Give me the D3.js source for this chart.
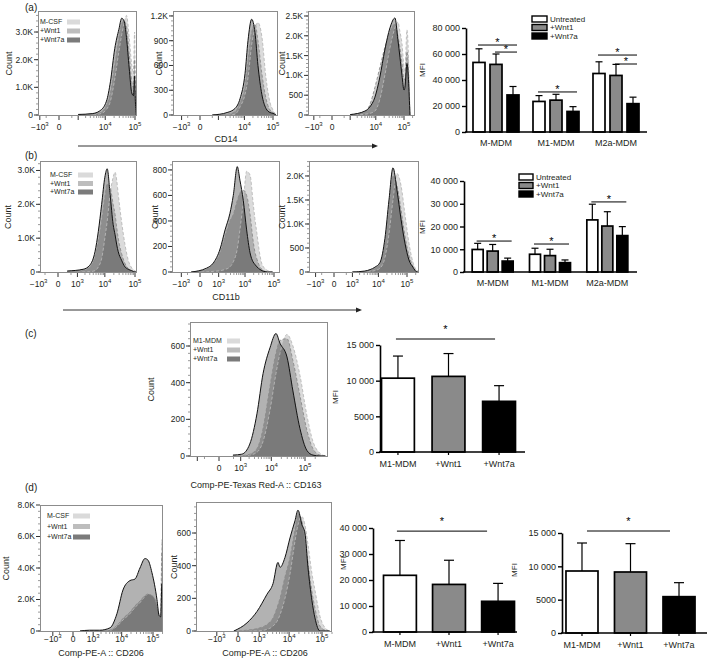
<!DOCTYPE html>
<html><head><meta charset="utf-8">
<script src="https://cdn.jsdelivr.net/npm/d3@7"></script>
<style>
body{margin:0;background:#fff}
svg{font-family:"Liberation Sans",Arial,Helvetica,sans-serif}
</style></head><body>
<svg id="chart" width="709" height="662"></svg>
<script>
// ================= DATA =================
const histLegendMCSF = ["M-CSF", "+Wnt1", "+Wnt7a"];
const histLegendM1 = ["M1-MDM", "+Wnt1", "+Wnt7a"];

// (a) CD14 histograms (fluorescence grid, counts per series)
const a1Grid  = [1000, 3500, 6500, 11000, 15000, 21000, 29000, 36000, 43000, 52000, 64000, 78000, 89000, 97000, 102000, 110000];
const a1Mcsf  = [0, 10, 40, 200, 500, 1300, 2300, 2900, 3300, 3600, 2800, 1800, 1500, 3000, 1000, 0];
const a1Wnt1  = [10, 30, 80, 350, 800, 1800, 2800, 3300, 3400, 3200, 2200, 1200, 1000, 2000, 800, 0];
const a1Wnt7a = [20, 50, 150, 500, 1200, 2400, 3100, 3500, 3400, 2800, 1700, 800, 700, 1400, 600, 0];

const a2Grid  = [500, 2300, 4600, 7000, 10500, 13400, 18000, 23600, 30000, 41000, 57000, 79000, 100000, 127000];
const a2Mcsf  = [0, 0, 10, 100, 250, 450, 850, 1050, 1120, 950, 450, 150, 60, 0];
const a2Wnt1  = [0, 10, 40, 150, 350, 650, 1000, 1100, 900, 500, 200, 60, 30, 0];
const a2Wnt7a = [0, 30, 80, 200, 500, 900, 1160, 1000, 600, 250, 80, 30, 20, 0];

const a3Grid  = [1000, 4000, 6000, 9300, 14000, 21000, 32000, 48000, 61000, 72000, 85000, 100000, 108000, 127000, 162000];
const a3Mcsf  = [0, 20, 40, 100, 400, 1000, 1700, 2200, 2350, 2100, 1800, 1200, 1100, 2150, 0];
const a3Wnt1  = [10, 80, 250, 700, 1200, 1700, 2100, 2300, 2000, 1700, 1300, 900, 900, 1600, 0];
const a3Wnt7a = [10, 100, 200, 450, 960, 1640, 2200, 2450, 1900, 1460, 1000, 630, 700, 1300, 0];

// (b) CD11b histograms
const b1Grid  = [300, 1700, 3000, 4600, 6000, 7800, 10000, 12000, 15000, 19000, 22000, 25000, 28000, 36000, 47000, 60000, 78000, 100000, 130000];
const b1Mcsf  = [0, 0, 10, 40, 150, 400, 1000, 1500, 2300, 2800, 2950, 2700, 2300, 1500, 800, 350, 120, 30, 0];
const b1Wnt1  = [10, 50, 150, 450, 900, 1500, 2200, 2600, 2500, 2000, 1700, 1300, 1000, 550, 250, 100, 30, 0, 0];
const b1Wnt7a = [30, 80, 200, 600, 1200, 2000, 2800, 3050, 2300, 1400, 1100, 800, 600, 350, 150, 80, 40, 0, 0];

const b2Grid  = [-300, 200, 550, 1150, 1850, 2850, 3800, 5300, 6600, 8700, 11400, 15000, 19000, 22000, 26000, 33000, 39000, 62000, 90000];
const b2Mcsf  = [0, 0, 5, 10, 20, 40, 80, 180, 330, 550, 790, 760, 550, 420, 300, 130, 60, 10, 0];
const b2Wnt1  = [0, 20, 60, 150, 280, 400, 450, 560, 620, 640, 600, 450, 250, 160, 100, 40, 20, 0, 0];
const b2Wnt7a = [0, 30, 70, 180, 330, 460, 600, 826, 720, 560, 330, 150, 80, 60, 40, 20, 10, 0, 0];

const b3Grid  = [1000, 3200, 5000, 7500, 11400, 17000, 23600, 32600, 45000, 62000, 85000, 117000, 161000, 222000, 300000];
const b3Mcsf  = [0, 0, 10, 30, 80, 300, 800, 1500, 2050, 1800, 1200, 600, 200, 30, 0];
const b3Wnt1  = [0, 10, 30, 80, 180, 600, 1300, 2000, 1800, 1300, 750, 350, 120, 10, 0];
const b3Wnt7a = [0, 20, 50, 100, 200, 700, 1500, 2170, 1700, 1100, 600, 250, 100, 0, 0];

// (c) CD163 histogram
const cGrid  = [470, 1100, 2100, 3600, 5600, 9100, 13800, 18200, 29400, 44000, 71000, 114000, 171000, 275000, 400000];
const cM1    = [0, 0, 5, 20, 80, 250, 450, 560, 663, 600, 440, 220, 80, 15, 0];
const cWnt1  = [0, 2, 10, 40, 150, 380, 560, 630, 640, 520, 330, 140, 40, 5, 0];
const cWnt7a = [5, 10, 65, 230, 450, 590, 668, 615, 540, 355, 150, 30, 5, 0, 0];

// (d) CD206 histograms
const d1Grid  = [200, 700, 1800, 4100, 7000, 11000, 18500, 26800, 38600, 55700, 69300, 92700, 133500, 154500, 175000, 192000, 206000];
const d1Mcsf  = [0, 0, 20, 50, 300, 700, 1100, 1500, 1800, 2200, 2350, 2300, 1700, 1100, 1000, 5800, 0];
const d1Wnt1  = [0, 0, 20, 60, 350, 800, 1200, 1600, 1900, 2250, 2350, 2250, 1650, 1050, 950, 5000, 0];
const d1Wnt7a = [0, 50, 50, 200, 1100, 2600, 3200, 3300, 4000, 4600, 4500, 3700, 2000, 1000, 900, 3000, 0];

const d2Grid  = [-100, 260, 820, 1930, 3080, 4470, 5190, 7430, 10650, 15160, 18730, 24800, 30500, 37700, 49800, 61300, 86800, 123000, 170000];
const d2Mcsf  = [0, 0, 0, 10, 30, 70, 100, 200, 350, 550, 650, 700, 650, 530, 350, 250, 90, 20, 0];
const d2Wnt1  = [0, 5, 15, 40, 80, 160, 200, 330, 450, 620, 720, 670, 560, 420, 240, 140, 30, 5, 0];
const d2Wnt7a = [0, 50, 120, 225, 290, 420, 390, 450, 570, 675, 740, 650, 600, 390, 185, 80, 0, 0, 0];

// Bar charts (MFI, mean and error)
const barGroups = ["M-MDM", "M1-MDM", "M2a-MDM"];
const barSeries = ["Untreated", "+Wnt1", "+Wnt7a"];
const cd14Untreated = [53500, 23500, 45000], cd14UntreatedErr = [10500, 4500, 9000];
const cd14Wnt1      = [52000, 24500, 43500], cd14Wnt1Err      = [8000, 4500, 8500];
const cd14Wnt7a     = [28500, 15800, 21800], cd14Wnt7aErr     = [6500, 3700, 5000];
const cd14Ticks = [0, 20000, 40000, 60000, 80000];
const cd14Sig = [[0, 0, 2, 66900], [0, 1, 2, 61500], [1, 0, 2, 30800], [2, 0, 2, 59200], [2, 1, 2, 52300]];

const cd11bUntreated = [9900, 7800, 22900], cd11bUntreatedErr = [2700, 2650, 6900];
const cd11bWnt1      = [9200, 7200, 20200], cd11bWnt1Err      = [2900, 2800, 6300];
const cd11bWnt7a     = [4800, 4100, 16000], cd11bWnt7aErr     = [1300, 1200, 3950];
const cd11bTicks = [0, 10000, 20000, 30000, 40000];
const cd11bSig = [[0, 0, 2, 13600], [1, 0, 2, 12300], [2, 0, 2, 30800]];

const cd163Cats = ["M1-MDM", "+Wnt1", "+Wnt7a"];
const cd163Mean = [10350, 10600, 7100], cd163Err = [3100, 3200, 2200];
const cd163Ticks = [0, 5000, 10000, 15000];
const cd163Sig = [[0, 2, 15840]];

const cd206MCats = ["M-MDM", "+Wnt1", "+Wnt7a"];
const cd206MMean = [21800, 18300, 11800], cd206MErr = [13400, 9300, 6900];
const cd206MTicks = [0, 10000, 20000, 30000, 40000];
const cd206MSig = [[0, 2, 38800]];

const cd206M1Cats = ["M1-MDM", "+Wnt1", "+Wnt7a"];
const cd206M1Mean = [9300, 9150, 5450], cd206M1Err = [4200, 4250, 2100];
const cd206M1Ticks = [0, 5000, 10000, 15000];
const cd206M1Sig = [[0, 2, 15300]];

// ================= STYLE =================
const TXT = "#231f20";
const HIST_FILL_OP = [0.14, 0.2, 0.3];
const HIST_STROKE = ["#b8b8b8", "#8a8a8a", "#111"];
const HIST_DASH = ["3,2", "3,2", null];
const HIST_SWATCH = ["#dadada", "#bdbdbd", "#7b7b7b"];
const BAR_FILL = ["#ffffff", "#8a8a8a", "#000000"];

const svg = d3.select("#chart");
let clipN = 0;

function supText(t, v) {
  if (v === 0) { t.text("0"); return; }
  const e = Math.round(Math.log10(Math.abs(v)));
  t.append("tspan").text((v < 0 ? "\u2212" : "") + "10");
  t.append("tspan").attr("dy", -4).attr("font-size", "6px").text(e);
}
const kFmt = v => v >= 1000 ? (v / 1000).toFixed(1) + "K" : String(v);
const mfiFmt = v => v >= 10000 ? d3.format(",")(v).replace(/,/g, " ") : String(v);

function drawHist(o) {
  const g = svg.append("g");
  const x = d3.scaleSymlog().constant(300).domain([0, 1e5]).range([o.p0, o.p5]);
  const y = d3.scaleLinear().domain([0, o.yMax]).range([o.y1 - 1, o.y0]);
  const id = "hc" + (clipN++);
  g.append("clipPath").attr("id", id).append("rect")
    .attr("x", o.x0).attr("y", o.y0).attr("width", o.x1 - o.x0).attr("height", o.y1 - o.y0);
  const area = d3.area().x((d, i) => x(o.grid[i])).y0(y(0)).y1(d => y(d)).curve(d3.curveMonotoneX);
  const line = d3.line().x((d, i) => x(o.grid[i])).y(d => y(d)).curve(d3.curveMonotoneX);
  const pg = g.append("g").attr("clip-path", `url(#${id})`);
  o.series.forEach((s, i) => pg.append("path").attr("d", area(s)).attr("fill", "#000").attr("fill-opacity", HIST_FILL_OP[i]));
  o.series.forEach((s, i) => pg.append("path").attr("d", line(s)).attr("fill", "none")
    .attr("stroke", HIST_STROKE[i]).attr("stroke-width", i === 2 ? 1 : 0.9).attr("stroke-dasharray", HIST_DASH[i]));
  g.append("rect").attr("x", o.x0 + 0.5).attr("y", o.y0 + 0.5).attr("width", o.x1 - o.x0 - 1).attr("height", o.y1 - o.y0 - 1)
    .attr("fill", "none").attr("stroke", "#8c8c8c").attr("stroke-width", 1);
  // y axis
  const step = o.yTicks[1] - o.yTicks[0];
  const minors = d3.range(0, o.yMax, step / 5);
  g.selectAll(null).data(minors).enter().append("line")
    .attr("x1", o.x0).attr("x2", o.x0 - 2).attr("y1", d => y(d)).attr("y2", d => y(d)).attr("stroke", "#555").attr("stroke-width", 0.6);
  g.selectAll(null).data(o.yTicks).enter().append("line")
    .attr("x1", o.x0).attr("x2", o.x0 - 4).attr("y1", d => y(d)).attr("y2", d => y(d)).attr("stroke", "#333").attr("stroke-width", 1);
  g.selectAll(null).data(o.yTicks).enter().append("text")
    .attr("x", o.x0 - 5).attr("y", d => y(d)).attr("dy", "0.35em").attr("text-anchor", "end")
    .attr("font-size", "8.5px").attr("fill", TXT).text(kFmt);
  // x axis
  const majors = [-1000, 0, 1000, 10000, 100000];
  const xmin = [];
  [1000, 10000].forEach(b => { for (let k = 2; k <= 9; k++) xmin.push(k * b); });
  xmin.push(200000, -500, 500);
  const inX = v => x(v) >= o.x0 - 0.5 && x(v) <= o.x1 + 0.5;
  g.selectAll(null).data(xmin.filter(inX)).enter().append("line")
    .attr("x1", d => x(d)).attr("x2", d => x(d)).attr("y1", o.y1).attr("y2", o.y1 + 2).attr("stroke", "#555").attr("stroke-width", 0.6);
  g.selectAll(null).data(majors.filter(inX)).enter().append("line")
    .attr("x1", d => x(d)).attr("x2", d => x(d)).attr("y1", o.y1).attr("y2", o.y1 + 4).attr("stroke", "#333").attr("stroke-width", 1);
  o.xLabels.forEach(v => {
    const t = g.append("text").attr("x", x(v)).attr("y", o.y1 + (o.xLabDy || 14)).attr("text-anchor", "middle")
      .attr("font-size", "8.5px").attr("fill", TXT);
    supText(t, v);
  });
  // Count label
  g.append("text").attr("transform", `translate(${o.countX},${(o.y0 + o.y1) / 2}) rotate(-90)`)
    .attr("text-anchor", "middle").attr("font-size", "9px").attr("fill", TXT).text("Count");
  // legend
  if (o.legend) {
    o.legend.forEach((name, i) => {
      const ly = o.legY + i * o.legStep;
      g.append("text").attr("x", o.x0 + o.legTx).attr("y", ly).attr("dy", "0.35em")
        .attr("font-size", "7px").attr("fill", TXT).text(name);
      g.append("rect").attr("x", o.x0 + o.legSx).attr("y", ly - 2.5).attr("width", o.legSw).attr("height", 5)
        .attr("fill", HIST_SWATCH[i]);
    });
  }
}

function yAxis(g, y, ticks, xPos) {
  const ax = g.append("g").attr("transform", `translate(${xPos},0)`)
    .call(d3.axisLeft(y).tickValues(ticks).tickFormat(mfiFmt).tickSize(4).tickSizeOuter(0));
  ax.select(".domain").attr("stroke", "#000").attr("stroke-width", 1.6);
  ax.selectAll(".tick line").attr("stroke", "#000").attr("stroke-width", 1.4);
  ax.selectAll(".tick text").attr("font-size", "9px").attr("fill", TXT).attr("font-family", "Liberation Sans, Arial, sans-serif").attr("x", -6);
}

function errBar(g, cx, yTop, yEnd, cap) {
  g.append("line").attr("x1", cx).attr("x2", cx).attr("y1", yTop).attr("y2", yEnd).attr("stroke", "#000").attr("stroke-width", 1.2);
  g.append("line").attr("x1", cx - cap).attr("x2", cx + cap).attr("y1", yEnd).attr("y2", yEnd).attr("stroke", "#000").attr("stroke-width", 1.2);
}

function sigMark(g, x1, x2, yl, off) {
  g.append("line").attr("x1", x1).attr("x2", x2).attr("y1", yl).attr("y2", yl).attr("stroke", "#000").attr("stroke-width", 1);
  g.append("text").attr("x", (x1 + x2) / 2).attr("y", yl - off).attr("text-anchor", "middle")
    .attr("font-size", "11px").attr("fill", "#000").text("*");
}

function drawGrouped(o) {
  const g = svg.append("g");
  const y = d3.scaleLinear().domain([0, o.yTop]).range([o.yZero, o.yTopPx]);
  const gx = d3.scaleBand().domain(barGroups).range([o.gx0, o.gx1]);
  const inner = d3.scaleBand().domain(barSeries).range([-1.5 * o.innerStep, 1.5 * o.innerStep])
    .paddingInner(o.innerPad).paddingOuter(o.innerPad / 2);
  const cx = (gi, si) => gx(barGroups[gi]) + gx.bandwidth() / 2 + inner(barSeries[si]) + inner.bandwidth() / 2;
  o.vals.forEach((arr, si) => {
    arr.forEach((v, gi) => {
      const c = cx(gi, si);
      errBar(g, c, y(v), y(v + o.errs[si][gi]), 3.5);
      g.append("rect").attr("x", c - inner.bandwidth() / 2).attr("y", y(v)).attr("width", inner.bandwidth())
        .attr("height", o.yZero - y(v)).attr("fill", BAR_FILL[si]).attr("stroke", "#000").attr("stroke-width", 1.7);
    });
  });
  g.append("line").attr("x1", o.gx0 - 1).attr("x2", o.xEnd).attr("y1", o.yZero).attr("y2", o.yZero).attr("stroke", "#000").attr("stroke-width", 1.6);
  yAxis(g, y, o.ticks, o.gx0);
  barGroups.forEach((name, gi) => {
    const c = gx(name) + gx.bandwidth() / 2;
    g.append("text").attr("x", c).attr("y", o.yZero + 14).attr("text-anchor", "middle").attr("font-size", "9px").attr("fill", TXT).text(name);
  });
  o.sig.forEach(([gi, a, b, lv]) => sigMark(g, cx(gi, a) - 1, cx(gi, b) + 4, y(lv), o.starOff));
  g.append("text").attr("transform", `translate(${o.mfiX},${o.mfiY}) rotate(-90)`).attr("text-anchor", "middle")
    .attr("font-size", "8px").attr("fill", TXT).text("MFI");
  barSeries.forEach((name, i) => {
    const ly = o.legY + i * o.legStep;
    g.append("rect").attr("x", o.legX).attr("y", ly - 3).attr("width", o.legW).attr("height", 6)
      .attr("fill", BAR_FILL[i]).attr("stroke", "#000").attr("stroke-width", 1.4);
    g.append("text").attr("x", o.legX + o.legW + 3).attr("y", ly).attr("dy", "0.35em").attr("font-size", "8px").attr("fill", TXT).text(name);
  });
}

function drawSimple(o) {
  const g = svg.append("g");
  const y = d3.scaleLinear().domain([0, o.yTop]).range([o.yZero, o.yTopPx]);
  const x = d3.scaleBand().domain(o.cats).range([o.gx0, o.gx1]).paddingInner(o.pi).paddingOuter(o.po);
  const cx = i => x(o.cats[i]) + x.bandwidth() / 2;
  o.vals.forEach((v, i) => {
    errBar(g, cx(i), y(v), y(v + o.errs[i]), 5);
    g.append("rect").attr("x", x(o.cats[i])).attr("y", y(v)).attr("width", x.bandwidth()).attr("height", o.yZero - y(v))
      .attr("fill", BAR_FILL[i]).attr("stroke", "#000").attr("stroke-width", 1.7);
  });
  g.append("line").attr("x1", o.gx0 - 1).attr("x2", o.xEnd).attr("y1", o.yZero).attr("y2", o.yZero).attr("stroke", "#000").attr("stroke-width", 1.6);
  o.cats.forEach((c, i) => {
    g.append("line").attr("x1", cx(i)).attr("x2", cx(i)).attr("y1", o.yZero).attr("y2", o.yZero + 3).attr("stroke", "#000").attr("stroke-width", 1.2);
    g.append("text").attr("x", cx(i)).attr("y", o.yZero + 15).attr("text-anchor", "middle").attr("font-size", "9px").attr("fill", TXT).text(c);
  });
  yAxis(g, y, o.ticks, o.gx0);
  o.sig.forEach(([a, b, lv]) => sigMark(g, cx(a) + o.sigDx[0], cx(b) + o.sigDx[1], y(lv), o.starOff));
  g.append("text").attr("transform", `translate(${o.mfiX},${o.mfiY}) rotate(-90)`).attr("text-anchor", "middle")
    .attr("font-size", "8px").attr("fill", TXT).text("MFI");
}

function panelLabel(t, x, y) {
  svg.append("text").attr("x", x).attr("y", y).attr("font-size", "10px").attr("fill", TXT).text(t);
}
function arrow(x1, x2, yy) {
  svg.append("line").attr("x1", x1).attr("x2", x2 - 4).attr("y1", yy).attr("y2", yy).attr("stroke", "#333").attr("stroke-width", 1);
  svg.append("path").attr("d", `M${x2},${yy} L${x2 - 6},${yy - 2.5} L${x2 - 6},${yy + 2.5} Z`).attr("fill", "#222");
}
function xTitle(t, x, y) {
  svg.append("text").attr("x", x).attr("y", y).attr("text-anchor", "middle").attr("font-size", "9px").attr("fill", TXT).text(t);
}

// ================= PANEL (a) =================
panelLabel("(a)", 25, 11);
drawHist({ x0: 38, x1: 137, y0: 11, y1: 116, p0: 59, p5: 135, yMax: 3760, yTicks: [0, 1000, 2000, 3000],
  xLabels: [-1000, 0, 10000, 100000], grid: a1Grid, series: [a1Mcsf, a1Wnt1, a1Wnt7a], countX: 12,
  legend: histLegendMCSF, legY: 22, legStep: 9, legTx: 2, legSx: 29, legSw: 13 });
drawHist({ x0: 173, x1: 278, y0: 11, y1: 116, p0: 200, p5: 273, yMax: 1260, yTicks: [0, 300, 600, 900, 1200],
  xLabels: [-1000, 0, 10000, 100000], grid: a2Grid, series: [a2Mcsf, a2Wnt1, a2Wnt7a], countX: 162 });
drawHist({ x0: 308, x1: 415, y0: 11, y1: 116, p0: 332, p5: 404, yMax: 2626, yTicks: [0, 500, 1000, 1500, 2000, 2500],
  xLabels: [-1000, 0, 10000, 100000], grid: a3Grid, series: [a3Mcsf, a3Wnt1, a3Wnt7a], countX: 285 });
xTitle("CD14", 226, 142);
arrow(78, 378, 146);
drawGrouped({ yTop: 80000, yZero: 132, yTopPx: 28, gx0: 466, gx1: 646, xEnd: 647, innerStep: 17, innerPad: 0.294,
  ticks: cd14Ticks, vals: [cd14Untreated, cd14Wnt1, cd14Wnt7a], errs: [cd14UntreatedErr, cd14Wnt1Err, cd14Wnt7aErr],
  sig: cd14Sig, starOff: -1, mfiX: 425, mfiY: 70, legX: 532, legW: 15, legY: 19, legStep: 8.5 });

// ================= PANEL (b) =================
panelLabel("(b)", 25, 159);
drawHist({ x0: 40, x1: 137, y0: 161, y1: 273, p0: 58, p5: 135, yMax: 3280, yTicks: [0, 1000, 2000, 3000],
  xLabels: [-1000, 0, 1000, 10000, 100000], grid: b1Grid, series: [b1Mcsf, b1Wnt1, b1Wnt7a], countX: 11,
  legend: histLegendMCSF, legY: 175, legStep: 8.5, legTx: 10, legSx: 38, legSw: 15 });
drawHist({ x0: 172, x1: 280, y0: 161, y1: 273, p0: 200, p5: 274, yMax: 870, yTicks: [0, 200, 400, 600, 800],
  xLabels: [-1000, 0, 1000, 10000, 100000], grid: b2Grid, series: [b2Mcsf, b2Wnt1, b2Wnt7a], countX: 158 });
drawHist({ x0: 309, x1: 419, y0: 161, y1: 273, p0: 334, p5: 407, yMax: 2312, yTicks: [0, 500, 1000, 1500, 2000],
  xLabels: [-1000, 0, 1000, 10000, 100000], grid: b3Grid, series: [b3Mcsf, b3Wnt1, b3Wnt7a], countX: 285 });
xTitle("CD11b", 226, 300);
arrow(63, 362, 310);
drawGrouped({ yTop: 40000, yZero: 272, yTopPx: 181, gx0: 464, gx1: 636, xEnd: 637, innerStep: 15, innerPad: 0.267,
  ticks: cd11bTicks, vals: [cd11bUntreated, cd11bWnt1, cd11bWnt7a], errs: [cd11bUntreatedErr, cd11bWnt1Err, cd11bWnt7aErr],
  sig: cd11bSig, starOff: -1, mfiX: 425, mfiY: 227, legX: 519, legW: 14, legY: 177, legStep: 8.5 });

// ================= PANEL (c) =================
panelLabel("(c)", 25, 337);
drawHist({ x0: 190, x1: 328, y0: 322, y1: 457, p0: 219, p5: 305, yMax: 731, yTicks: [0, 200, 400, 600],
  xLabels: [0, 1000, 10000, 100000], grid: cGrid, series: [cM1, cWnt1, cWnt7a], countX: 154,
  legend: histLegendM1, legY: 341, legStep: 9, legTx: 3, legSx: 37, legSw: 13 });
xTitle("Comp-PE-Texas Red-A :: CD163", 256, 488);
drawSimple({ yTop: 15000, yZero: 452, yTopPx: 345, gx0: 380, gx1: 517, xEnd: 525, pi: 0.35, po: 0.03,
  cats: cd163Cats, vals: cd163Mean, errs: cd163Err, ticks: cd163Ticks, sig: cd163Sig, sigDx: [-2, -4], starOff: 6,
  mfiX: 338, mfiY: 397 });

// ================= PANEL (d) =================
panelLabel("(d)", 25, 491);
drawHist({ x0: 40, x1: 163, y0: 505, y1: 632, p0: 73, p5: 153, yMax: 8000, yTicks: [0, 2000, 4000, 6000, 8000],
  xLabels: [-1000, 0, 1000, 10000, 100000], grid: d1Grid, series: [d1Mcsf, d1Wnt1, d1Wnt7a], countX: 9, xLabDy: 10,
  legend: histLegendMCSF, legY: 516, legStep: 10.5, legTx: 7, legSx: 33, legSw: 17 });
drawHist({ x0: 196, x1: 332, y0: 502, y1: 632, p0: 238, p5: 322, yMax: 790, yTicks: [0, 200, 400, 600],
  xLabels: [-1000, 0, 1000, 10000, 100000], grid: d2Grid, series: [d2Mcsf, d2Wnt1, d2Wnt7a], countX: 177, xLabDy: 10 });
xTitle("Comp-PE-A :: CD206", 101, 656);
xTitle("Comp-PE-A :: CD206", 265, 656);
drawSimple({ yTop: 40000, yZero: 632, yTopPx: 528, gx0: 373, gx1: 525, xEnd: 517, pi: 0.33, po: 0.214,
  cats: cd206MCats, vals: cd206MMean, errs: cd206MErr, ticks: cd206MTicks, sig: cd206MSig, sigDx: [-3, -11], starOff: 6,
  mfiX: 346, mfiY: 563 });
drawSimple({ yTop: 15000, yZero: 633, yTopPx: 533, gx0: 562, gx1: 699, xEnd: 707, pi: 0.34, po: 0.082,
  cats: cd206M1Cats, vals: cd206M1Mean, errs: cd206M1Err, ticks: cd206M1Ticks, sig: cd206M1Sig, sigDx: [5, -9], starOff: 6,
  mfiX: 517, mfiY: 570 });
</script>
</body></html>
